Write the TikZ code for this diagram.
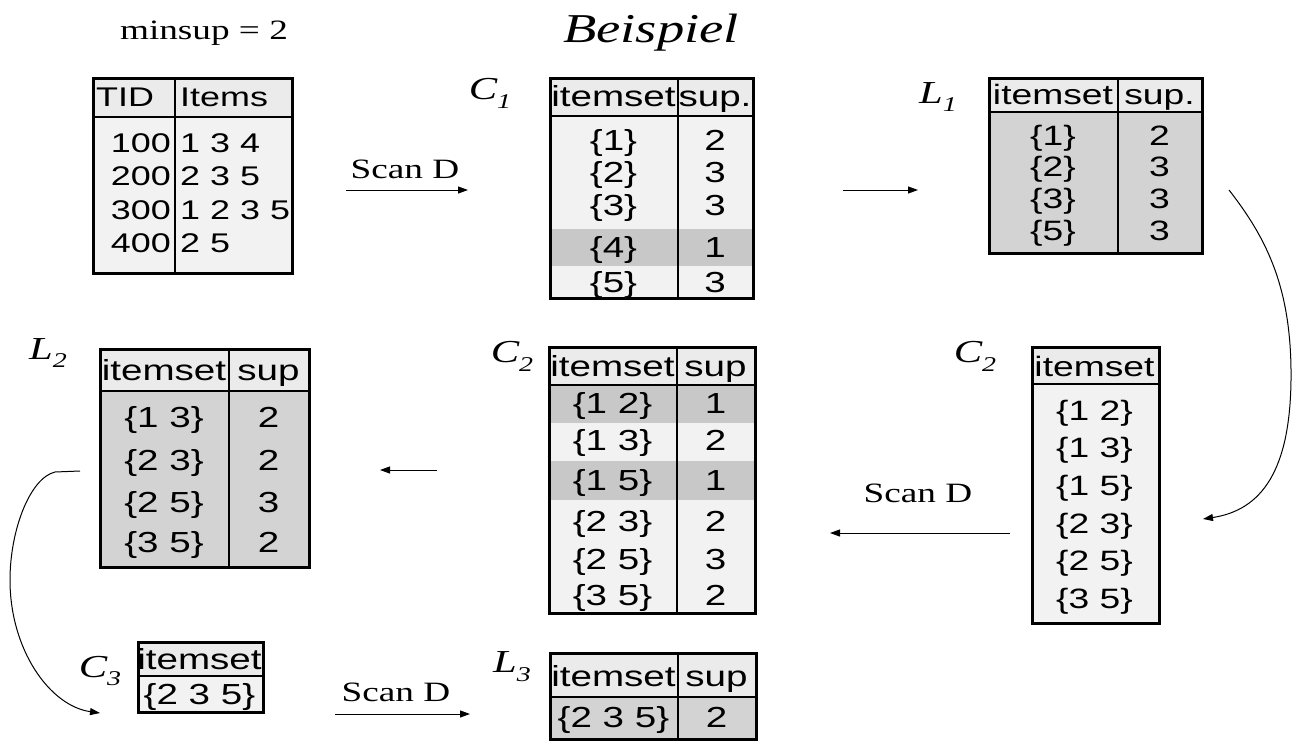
\documentclass[tikz,border=0pt]{standalone}
\usepackage{fontspec}
\newfontfamily\sansf[FakeStretch=1.33]{Liberation Sans}
\newfontfamily\seriff[FakeStretch=1.33]{Liberation Serif}
\usetikzlibrary{arrows.meta}
\definecolor{hdr}{HTML}{EBEBEB}
\definecolor{lightrow}{HTML}{F2F2F2}
\definecolor{darkrow}{HTML}{C8C8C8}
\definecolor{lbody}{HTML}{D3D3D3}
\newcommand\tidf{\sansf\fontsize{27}{27}\selectfont}
\newcommand\tabf{\sansf\fontsize{29}{29}\selectfont}
\newcommand\tabs{\sansf\fontsize{28}{28}\selectfont}
\newcommand\labC[2]{{\seriff\itshape\fontsize{32}{32}\selectfont #1\raisebox{-0.28em}{\fontsize{21}{21}\selectfont #2}}}
\begin{document}
\begin{tikzpicture}[x=1pt,y=-1pt,
  frame/.style={draw, line width=2.8pt, anchor=north west, inner sep=0pt},
  grid/.style={line width=2.8pt},
  tidcell/.style={inner sep=0pt, font=\tidf, text height=19.4pt, text depth=0pt},
  cell/.style={inner sep=0pt, font=\tabf, text height=20.9pt, text depth=0pt},
  smallcell/.style={inner sep=0pt, font=\tabs, text height=20.2pt, text depth=0pt},
  lab/.style={inner sep=0pt},
  arr/.style={line width=1pt, -{Triangle[length=10pt,width=7pt]}}]
\useasboundingbox (0,0) rectangle (1294,745);
\fill[white] (0,0) rectangle (1294,745);

% title texts
\node[lab, font=\seriff\fontsize{28}{28}\selectfont] (minsup) at (204,33) {minsup = 2};
\node[lab, font=\seriff\itshape\fontsize{41}{41}\selectfont] (title) at (651,33) {Beispiel};

% ---------- TID table
\fill[hdr] (92,77) rectangle (291,117);
\fill[lightrow] (92,117) rectangle (291,272);
\node[frame, minimum width=199pt, minimum height=195pt] (tid) at (92,77) {};
\draw[grid] (92,117) -- (291,117);
\draw[grid] (175,77) -- (175,272);
\node[tidcell, anchor=west] (tidh1) at (96,97) {TID};
\node[tidcell, anchor=west] (tidh2) at (180,97) {Items};
\node[tidcell, anchor=east] (tid1) at (171,143) {100};
\node[tidcell, anchor=west] (it1) at (180,143) {1 3 4};
\node[tidcell, anchor=east] (tid2) at (171,176) {200};
\node[tidcell, anchor=west] (it2) at (180,176) {2 3 5};
\node[tidcell, anchor=east] (tid3) at (171,210) {300};
\node[tidcell, anchor=west] (it3) at (180,210) {1 2 3 5};
\node[tidcell, anchor=east] (tid4) at (171,243) {400};
\node[tidcell, anchor=west] (it4) at (180,243) {2 5};

% ---------- C1 table
\node[lab] (lc1) at (490,93) {\labC{C}{1}};
\fill[hdr] (549,77) rectangle (752,116);
\fill[lightrow] (549,116) rectangle (752,229);
\fill[darkrow] (549,229) rectangle (752,266);
\fill[lightrow] (549,266) rectangle (752,297);
\node[frame, minimum width=203pt, minimum height=220pt] (c1) at (549,77) {};
\draw[grid] (549,116) -- (752,116);
\draw[grid] (678,77) -- (678,297);
\node[cell] (c1h1) at (613.5,96) {itemset};
\node[cell] (c1h2) at (715,96) {sup.};
\node[cell] (c1a1) at (613.5,140) {\{1\}};
\node[cell] (c1b1) at (715,140) {2};
\node[cell] (c1a2) at (613.5,172) {\{2\}};
\node[cell] (c1b2) at (715,172) {3};
\node[cell] (c1a3) at (613.5,205) {\{3\}};
\node[cell] (c1b3) at (715,205) {3};
\node[cell] (c1a4) at (613.5,247) {\{4\}};
\node[cell] (c1b4) at (715,247) {1};
\node[cell] (c1a5) at (613.5,282) {\{5\}};
\node[cell] (c1b5) at (715,282) {3};

% ---------- L1 table
\node[lab] (ll1) at (938,97) {\labC{L}{1}};
\fill[hdr] (988,77) rectangle (1201,112);
\fill[lbody] (988,112) rectangle (1201,252);
\node[frame, minimum width=213pt, minimum height=175pt] (l1) at (988,77) {};
\draw[grid] (988,112) -- (1201,112);
\draw[grid] (1118,77) -- (1118,252);
\node[smallcell] (l1h1) at (1053,94) {itemset};
\node[smallcell] (l1h2) at (1159.5,94) {sup.};
\node[smallcell] (l1a1) at (1053,135) {\{1\}};
\node[smallcell] (l1b1) at (1159.5,135) {2};
\node[smallcell] (l1a2) at (1053,166) {\{2\}};
\node[smallcell] (l1b2) at (1159.5,166) {3};
\node[smallcell] (l1a3) at (1053,198) {\{3\}};
\node[smallcell] (l1b3) at (1159.5,198) {3};
\node[smallcell] (l1a4) at (1053,230) {\{5\}};
\node[smallcell] (l1b4) at (1159.5,230) {3};

% ---------- C2 right table
\node[lab] (lc2r) at (975,356) {\labC{C}{2}};
\fill[hdr] (1031,346) rectangle (1158,384);
\fill[lightrow] (1031,384) rectangle (1158,622);
\node[frame, minimum width=127pt, minimum height=276pt] (c2r) at (1031,346) {};
\draw[grid] (1031,384) -- (1158,384);
\node[smallcell] (c2rh) at (1094.5,366) {itemset};
\node[smallcell] (c2r1) at (1094.5,410) {\{1 2\}};
\node[smallcell] (c2r2) at (1094.5,447) {\{1 3\}};
\node[smallcell] (c2r3) at (1094.5,485) {\{1 5\}};
\node[smallcell] (c2r4) at (1094.5,523) {\{2 3\}};
\node[smallcell] (c2r5) at (1094.5,560) {\{2 5\}};
\node[smallcell] (c2r6) at (1094.5,598) {\{3 5\}};

% ---------- C2 middle table
\node[lab] (lc2m) at (512,356) {\labC{C}{2}};
\fill[hdr] (548,346) rectangle (754,385);
\fill[lightrow] (548,385) rectangle (754,612);
\fill[darkrow] (548,385) rectangle (754,423);
\fill[darkrow] (548,461) rectangle (754,500);
\node[frame, minimum width=206pt, minimum height=266pt] (c2m) at (548,346) {};
\draw[grid] (548,385) -- (754,385);
\draw[grid] (677,346) -- (677,612);
\node[cell] (c2mh1) at (612.5,366) {itemset};
\node[cell] (c2mh2) at (715.5,366) {sup};
\node[cell] (c2ma1) at (612.5,403) {\{1 2\}};
\node[cell] (c2mb1) at (715.5,403) {1};
\node[cell] (c2ma2) at (612.5,440) {\{1 3\}};
\node[cell] (c2mb2) at (715.5,440) {2};
\node[cell] (c2ma3) at (612.5,480) {\{1 5\}};
\node[cell] (c2mb3) at (715.5,480) {1};
\node[cell] (c2ma4) at (612.5,521) {\{2 3\}};
\node[cell] (c2mb4) at (715.5,521) {2};
\node[cell] (c2ma5) at (612.5,559) {\{2 5\}};
\node[cell] (c2mb5) at (715.5,559) {3};
\node[cell] (c2ma6) at (612.5,595) {\{3 5\}};
\node[cell] (c2mb6) at (715.5,595) {2};

% ---------- L2 table
\node[lab] (ll2) at (48,353) {\labC{L}{2}};
\fill[hdr] (99,348) rectangle (308,391);
\fill[lbody] (99,391) rectangle (308,566);
\node[frame, minimum width=209pt, minimum height=218pt] (l2) at (99,348) {};
\draw[grid] (99,391) -- (308,391);
\draw[grid] (229,348) -- (229,566);
\node[cell] (l2h1) at (164,370) {itemset};
\node[cell] (l2h2) at (268.5,370) {sup};
\node[cell] (l2a1) at (164,417) {\{1 3\}};
\node[cell] (l2b1) at (268.5,417) {2};
\node[cell] (l2a2) at (164,460) {\{2 3\}};
\node[cell] (l2b2) at (268.5,460) {2};
\node[cell] (l2a3) at (164,502) {\{2 5\}};
\node[cell] (l2b3) at (268.5,502) {3};
\node[cell] (l2a4) at (164,542) {\{3 5\}};
\node[cell] (l2b4) at (268.5,542) {2};

% ---------- C3 table
\node[lab] (lc3) at (100,671) {\labC{C}{3}};
\fill[hdr] (137,641) rectangle (262,676);
\fill[lightrow] (137,676) rectangle (262,711);
\node[frame, minimum width=125pt, minimum height=70pt] (c3) at (137,641) {};
\draw[grid] (137,676) -- (262,676);
\node[cell] (c3h) at (199.5,659) {itemset};
\node[cell] (c3a) at (199.5,694) {\{2 3 5\}};

% ---------- L3 table
\node[lab] (ll3) at (512,667) {\labC{L}{3}};
\fill[hdr] (549,652) rectangle (755,697);
\fill[lbody] (549,697) rectangle (755,738);
\node[frame, minimum width=206pt, minimum height=86pt] (l3) at (549,652) {};
\draw[grid] (549,697) -- (755,697);
\draw[grid] (678,652) -- (678,738);
\node[cell] (l3h1) at (613.5,676) {itemset};
\node[cell] (l3h2) at (716.5,676) {sup};
\node[cell] (l3a) at (613.5,717) {\{2 3 5\}};
\node[cell] (l3b) at (716.5,717) {2};

% ---------- arrows
\coordinate (a1s) at (346,190); \coordinate (a1e) at (468,190);
\draw[arr] (a1s) -- (a1e);
\node[lab, font=\seriff\fontsize{28}{28}\selectfont, anchor=base] (scan1) at (405,178) {Scan D};
\coordinate (a2s) at (843,190); \coordinate (a2e) at (918,190);
\draw[arr] (a2s) -- (a2e);
\coordinate (a3s) at (1229,190); \coordinate (a3e) at (1203,519);
\draw[arr] (a3s) .. controls (1268,240) and (1292,290) .. (1291,380) .. controls (1290,470) and (1262,510) .. (a3e);
\coordinate (a4s) at (1010,533); \coordinate (a4e) at (830,533);
\draw[arr] (a4s) -- (a4e);
\node[lab, font=\seriff\fontsize{28}{28}\selectfont, anchor=base] (scan2) at (918,502) {Scan D};
\coordinate (a5s) at (437,470); \coordinate (a5e) at (380,470);
\draw[arr] (a5s) -- (a5e);
\coordinate (a6s) at (80,471); \coordinate (a6e) at (100,713);
\draw[arr] (a6s) -- (55,472) .. controls (30,478) and (10,530) .. (10,580) .. controls (10,650) and (50,706) .. (a6e);
\coordinate (a7s) at (335,714); \coordinate (a7e) at (470,714);
\draw[arr] (a7s) -- (a7e);
\node[lab, font=\seriff\fontsize{28}{28}\selectfont, anchor=base] (scan3) at (396,701) {Scan D};
\end{tikzpicture}
\end{document}
